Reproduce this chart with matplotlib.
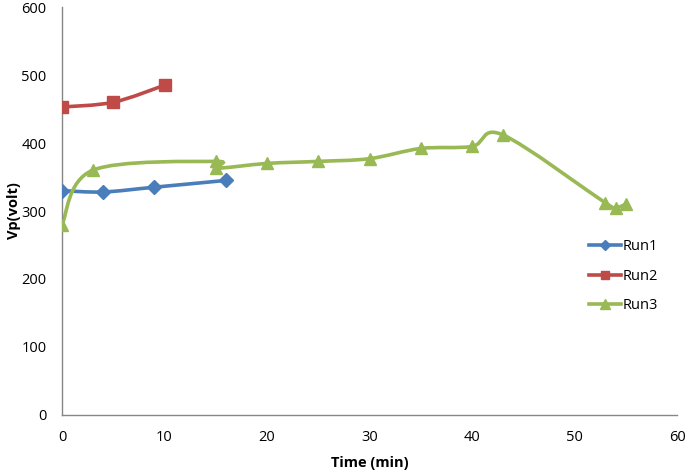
import matplotlib
matplotlib.use("Agg")
import matplotlib.pyplot as plt
from matplotlib.path import Path
from matplotlib.patches import PathPatch
import numpy as np

plt.rcParams['font.family'] = ['Open Sans', 'DejaVu Sans']

# data
run1_t = [0, 4, 9, 16]
run1_v = [330, 328, 335, 345]
run2_t = [0, 5, 10]
run2_v = [453, 460, 485]
run3_t = [0, 3, 15, 15, 20, 25, 30, 35, 40, 43, 53, 54, 55]
run3_v = [280, 360, 373, 363, 370, 373, 377, 392, 395, 412, 312, 305, 310]

x_ticks = [0, 10, 20, 30, 40, 50, 60]
y_ticks = [0, 100, 200, 300, 400, 500, 600]

colors = {'Run1': '#4a7ebb', 'Run2': '#be4b48', 'Run3': '#98b954'}


def smooth_path(xs, ys, tension=1/6.):
    # excel style smoothed line: bezier segments with catmull-rom control points
    pts = np.column_stack([xs, ys]).astype(float)
    verts = [pts[0]]
    codes = [Path.MOVETO]
    n = len(pts)
    for i in range(n - 1):
        p0 = pts[i - 1] if i > 0 else pts[i]
        p1 = pts[i]
        p2 = pts[i + 1]
        p3 = pts[i + 2] if i + 2 < n else pts[i + 1]
        c1 = p1 + (p2 - p0) * tension
        c2 = p2 - (p3 - p1) * tension
        verts += [c1, c2, p2]
        codes += [Path.CURVE4] * 3
    return Path(verts, codes)


fig = plt.figure(figsize=(6.85, 4.71), dpi=100)
ax = fig.add_axes([0.0905, 0.119, 0.898, 0.866])

series = [('Run1', run1_t, run1_v, 'D', 7),
          ('Run2', run2_t, run2_v, 's', 8),
          ('Run3', run3_t, run3_v, '^', 9)]

for name, t, v, m, ms in series:
    c = colors[name]
    patch = PathPatch(smooth_path(t, v), facecolor='none', edgecolor=c, lw=2.6,
                      capstyle='round', zorder=2)
    ax.add_patch(patch)
    ax.plot(t, v, linestyle='none', marker=m, markersize=ms, color=c, zorder=3)
    ax.plot([], [], color=c, lw=2.6, marker=m, markersize=ms - 2, label=name)

ax.set_xlim(0, 60)
ax.set_ylim(0, 600)
ax.set_xticks(x_ticks)
ax.set_yticks(y_ticks)
ax.tick_params(length=0, labelsize=10.5)
ax.tick_params(axis='x', pad=11)
ax.tick_params(axis='y', pad=11)
for s in ['top', 'right']:
    ax.spines[s].set_visible(False)
for s in ['left', 'bottom']:
    ax.spines[s].set_color('#868686')
    ax.spines[s].set_linewidth(1.0)

ax.set_xlabel('Time (min)', fontsize=10.5, fontweight='bold', labelpad=8)
ax.set_ylabel('Vp(volt)', fontsize=10.5, fontweight='bold', labelpad=0)

ax.legend(loc='center left', bbox_to_anchor=(0.835, 0.34), frameon=False,
          fontsize=10.5, handlelength=2.2, handletextpad=0.1, labelspacing=1.0)

fig.savefig('out.png', dpi=100)
